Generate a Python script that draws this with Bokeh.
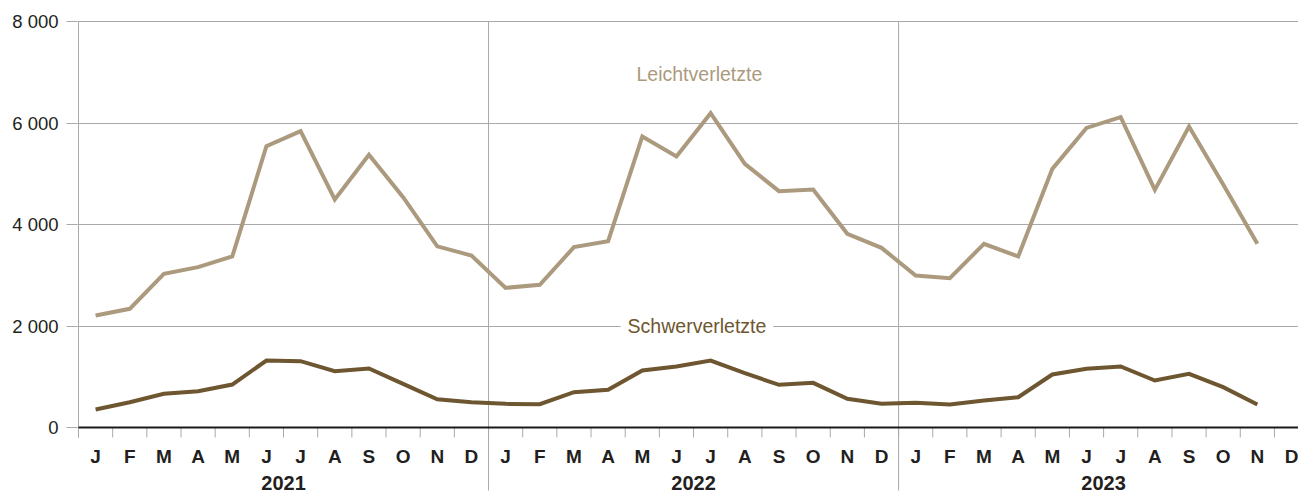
from bokeh.plotting import figure
from bokeh.models import Range1d, FixedTicker, ColumnDataSource, Label
from bokeh.core.properties import value
from bokeh.embed import file_html
from bokeh.resources import INLINE

# ---- data ----
months = ["J", "F", "M", "A", "M", "J", "J", "A", "S", "O", "N", "D"]
years = ["2021", "2022", "2023"]
leicht = [2207, 2339, 3028, 3159, 3369, 5543, 5839, 4493, 5373, 4538, 3570, 3389,
          2752, 2811, 3554, 3672, 5734, 5340, 6194, 5195, 4657, 4690, 3816, 3540,
          2995, 2943, 3619, 3369, 5096, 5904, 6115, 4683, 5931, 4788, 3619]
schwer = [355, 499, 663, 716, 847, 1320, 1307, 1110, 1163, 861, 556, 499,
          466, 459, 696, 742, 1123, 1202, 1320, 1071, 841, 880, 565, 466,
          486, 453, 532, 597, 1044, 1156, 1202, 926, 1058, 795, 453]
y_ticks = [0, 2000, 4000, 6000, 8000]
y_tick_labels = ["0", "2 000", "4 000", "6 000", "8 000"]

# ---- styling ----
FONT = "Liberation Sans"
TXT = "#231f20"
GRID = "#a9a9ab"
C_LEICHT = "#ab9a7e"
C_SCHWER = "#6d5630"

px_per_unit = 406 / 8000.0
px_per_month = 34.17
y_top = 8000 + 2 / px_per_unit
y_bot = -67 / px_per_unit
x_start = -0.5 - 1 / px_per_month
x_end = x_start + 1221 / px_per_month

p = figure(width=1298, height=494, output_backend="svg", toolbar_location=None,
           x_range=Range1d(x_start, x_end), y_range=Range1d(y_bot, y_top),
           x_axis_location=None, min_border_left=77, min_border_right=0,
           min_border_top=19, min_border_bottom=0)
p.outline_line_color = None
p.background_fill_color = "white"
p.xgrid.visible = False
p.ygrid.ticker = FixedTicker(ticks=y_ticks)
p.ygrid.grid_line_color = GRID
p.ygrid.grid_line_width = 1

ax = p.yaxis[0]
ax.ticker = FixedTicker(ticks=y_ticks)
ax.major_label_overrides = {t: l for t, l in zip(y_ticks, y_tick_labels)}
ax.axis_line_color = None
ax.major_tick_in = 0
ax.major_tick_out = 11
ax.major_tick_line_color = GRID
ax.minor_tick_line_color = None
ax.major_label_standoff = 8
ax.major_label_text_font = FONT
ax.major_label_text_font_size = "18.5px"
ax.major_label_text_color = TXT

n = len(months) * len(years)
idx = list(range(n))
tick_len = 10 / px_per_unit

# y-axis line
p.segment(x0=[-0.5], y0=[-tick_len], x1=[-0.5], y1=[y_ticks[-1]], line_color=GRID, line_width=1)

# year separators
sep_x = [len(months) * k - 0.5 for k in range(1, len(years))]
p.segment(x0=sep_x, y0=[-63 / px_per_unit] * len(sep_x), x1=sep_x, y1=[y_ticks[-1]] * len(sep_x),
          line_color=GRID, line_width=1)

# month tick marks
bx = [k - 0.5 for k in range(n + 1)]
p.segment(x0=bx, y0=[0] * len(bx), x1=bx, y1=[-tick_len] * len(bx), line_color=GRID, line_width=1)

# lines
p.line(idx[:len(leicht)], leicht, line_color=C_LEICHT, line_width=4, line_join="miter")
p.line(idx[:len(schwer)], schwer, line_color=C_SCHWER, line_width=4, line_join="miter")

# baseline
p.segment(x0=[-0.5], y0=[0], x1=[x_end + 1], y1=[0], line_color="#1a1a1a", line_width=2)

# month labels
src_m = ColumnDataSource(dict(x=idx, y=[-29 / px_per_unit] * n, t=months * len(years)))
p.text(x="x", y="y", text="t", source=src_m, text_font=value(FONT), text_font_style="bold",
       text_font_size="19px", text_color=TXT, text_align="center", text_baseline="middle")
# year labels
src_y = ColumnDataSource(dict(x=[len(months) * k + 5.5 for k in range(len(years))],
                              y=[-55 / px_per_unit] * len(years), t=years))
p.text(x="x", y="y", text="t", source=src_y, text_font=value(FONT), text_font_style="bold",
       text_font_size="20px", text_color=TXT, text_align="center", text_baseline="middle")

# series labels
p.add_layout(Label(x=17.67, y=6956, text="Leichtverletzte", text_font=FONT, text_font_size="19.5px",
                   text_color=C_LEICHT, text_align="center", text_baseline="middle"))
p.add_layout(Label(x=17.6, y=2000, text="Schwerverletzte", text_font=FONT, text_font_size="19.5px",
                   text_color=C_SCHWER, text_align="center", text_baseline="middle",
                   background_fill_color="white", padding=7))

open("out.html", "w").write(file_html(p, INLINE))
